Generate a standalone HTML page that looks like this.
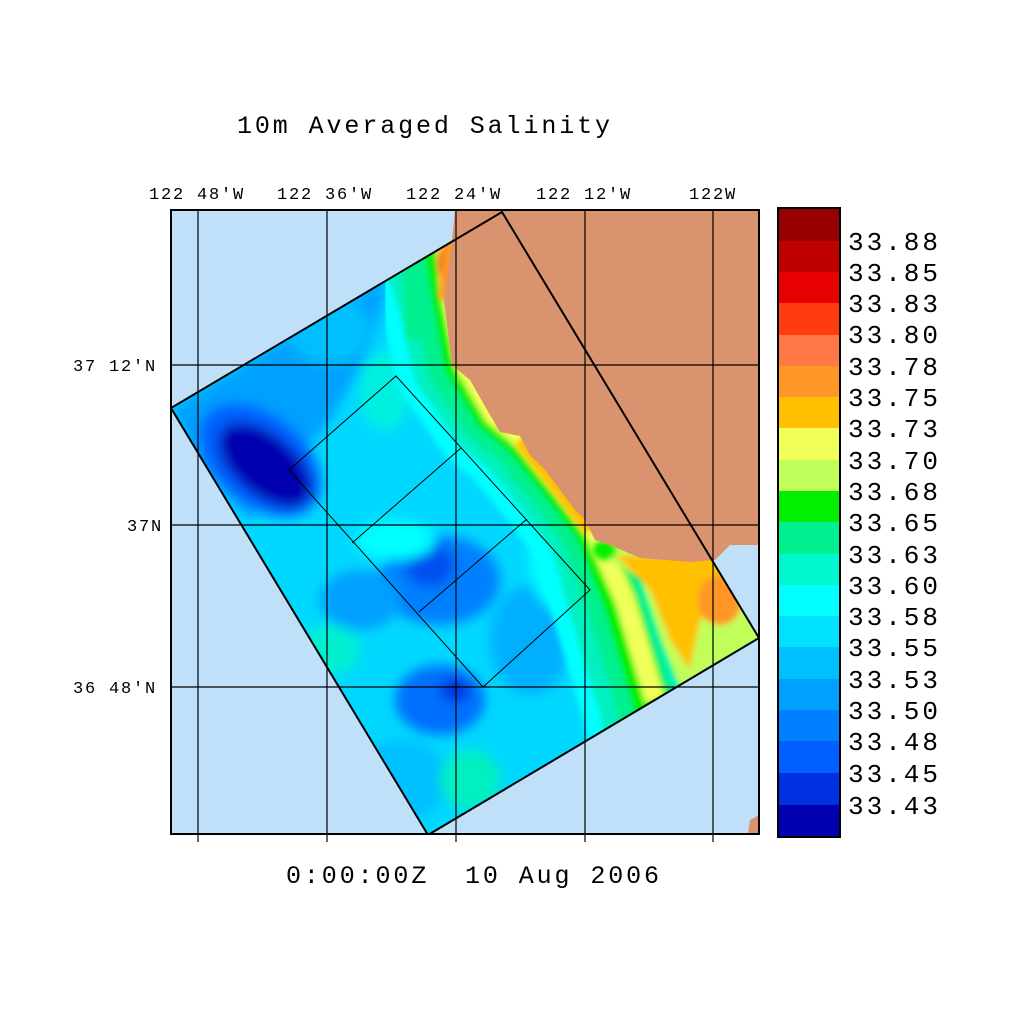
<!DOCTYPE html>
<html><head><style>
body{margin:0;background:#fff;}
svg text{font-family:"Liberation Mono",monospace;fill:#000;white-space:pre;}
</style></head><body>
<svg width="1024" height="1024" viewBox="0 0 1024 1024" xmlns="http://www.w3.org/2000/svg">
<defs>
<clipPath id="dom"><polygon points="171,408 502,212 759,638 428,835"/></clipPath>
<clipPath id="map"><rect x="171" y="210" width="588" height="624"/></clipPath>
<filter id="b" x="-20%" y="-20%" width="140%" height="140%"><feGaussianBlur stdDeviation="6"/></filter>
<filter id="b2"><feGaussianBlur stdDeviation="3"/></filter>
</defs>
<text x="237" y="133" font-size="25" letter-spacing="2.9">10m Averaged Salinity</text>
<g font-size="17" letter-spacing="1.8">
<text x="149" y="199">122 48'W</text><text x="277" y="199">122 36'W</text><text x="406" y="199">122 24'W</text><text x="536" y="199">122 12'W</text><text x="689" y="199">122W</text>
<text x="73" y="371">37 12'N</text><text x="127" y="531">37N</text><text x="73" y="693">36 48'N</text>
</g>
<rect x="171" y="210" width="588" height="624" fill="#c0e0fa"/>
<g clip-path="url(#map)">
<g clip-path="url(#dom)">
<rect x="150" y="200" width="620" height="650" fill="#00d8ff"/>
<g filter="url(#b)">
<polygon points="171,408 390,275 370,350 330,420 250,520 200,470" fill="#00a0ff"/>
<ellipse cx="260" cy="460" rx="70" ry="45" transform="rotate(40 260 460)" fill="#0060ff"/>
<ellipse cx="265" cy="465" rx="55" ry="30" transform="rotate(40 265 465)" fill="#0000b0"/>
<ellipse cx="330" cy="330" rx="40" ry="35" fill="#00c0ff"/>
<ellipse cx="385" cy="390" rx="25" ry="40" fill="#00f0e0"/>
<ellipse cx="440" cy="580" rx="60" ry="45" fill="#0080ff"/>
<ellipse cx="430" cy="565" rx="25" ry="22" fill="#0050f0"/>
<ellipse cx="360" cy="600" rx="40" ry="30" fill="#00a0ff"/>
<ellipse cx="440" cy="700" rx="45" ry="35" fill="#0070ff"/>
<ellipse cx="455" cy="690" rx="15" ry="12" fill="#0030e0"/>
<ellipse cx="530" cy="640" rx="40" ry="55" fill="#00b0ff"/>
<ellipse cx="400" cy="780" rx="50" ry="40" fill="#00c0ff"/>
<ellipse cx="330" cy="650" rx="30" ry="25" fill="#00f0d0"/>
<ellipse cx="470" cy="780" rx="30" ry="30" fill="#00f0c0"/>
<ellipse cx="560" cy="560" rx="30" ry="50" fill="#00ffff"/>
<ellipse cx="395" cy="540" rx="40" ry="20" fill="#00ffff"/>
</g>
<g fill="none" stroke-linejoin="round" filter="url(#b2)">
<polyline points="420,240 440,300 455,365 490,415 520,440 560,490 590,530 610,600 640,700 650,740" stroke="#00ffff" stroke-width="120"/>
<polyline points="420,240 440,300 455,365 490,415 520,440 560,490 590,530 610,600 640,700 650,740" stroke="#00f0c0" stroke-width="85"/>
<polyline points="425,240 443,300 457,365 490,415 520,440 560,490 590,530 615,600 645,700 650,740" stroke="#00f090" stroke-width="60"/>
<polyline points="410,270 412,340" stroke="#00f090" stroke-width="14"/>
<polyline points="440,240 450,300 462,365 492,415 522,440 562,490 592,530 620,600 650,700 655,740" stroke="#00f000" stroke-width="36"/>
<polyline points="445,240 452,300 465,365 494,415 524,440 564,490 594,530 625,600 655,700" stroke="#f0ff5a" stroke-width="20"/>
</g>
<g filter="url(#b2)">
<polygon points="600,540 760,540 760,640 680,690 660,640 640,580 610,560" fill="#c0ff5a"/>
<polygon points="615,555 740,555 745,600 700,620 690,670 670,640 650,590" fill="#ffc000"/>
<ellipse cx="720" cy="600" rx="22" ry="25" fill="#ff9628"/>
<ellipse cx="605" cy="550" rx="12" ry="10" fill="#00f000"/>
<ellipse cx="448" cy="265" rx="10" ry="22" fill="#e60000"/>
<polyline points="450,240 445,300" stroke="#ff9628" stroke-width="14" fill="none"/>
<polyline points="520,440 560,490 590,530" stroke="#ffc000" stroke-width="14" fill="none"/>
</g>
</g>
<polygon points="455,210 452,240 444,300 452,365 470,380 490,415 500,432 520,436 530,455 545,470 560,490 575,510 585,520 595,540 610,545 640,558 690,562 715,560 730,545 759,545 759,210" fill="#d9936f"/>
<polygon points="750,820 759,815 759,834 748,834" fill="#d9936f"/>
<g stroke="#000" stroke-width="1.2">
<line x1="198" y1="210" x2="198" y2="834"/><line x1="327" y1="210" x2="327" y2="834"/><line x1="456" y1="210" x2="456" y2="834"/><line x1="585" y1="210" x2="585" y2="834"/><line x1="713" y1="210" x2="713" y2="834"/>
<line x1="171" y1="365" x2="759" y2="365"/><line x1="171" y1="525" x2="759" y2="525"/><line x1="171" y1="687" x2="759" y2="687"/>
</g>
<g stroke="#000" stroke-width="1" fill="none">
<polygon points="289,470 396,376 590,590 483,687"/>
<line x1="352" y1="543" x2="461" y2="448"/><line x1="419" y1="612" x2="527" y2="519"/>
</g>
<polygon points="171,408 502,212 759,638 428,835" fill="none" stroke="#000" stroke-width="2"/>
</g>
<rect x="171" y="210" width="588" height="624" fill="none" stroke="#000" stroke-width="2"/>
<g stroke="#000" stroke-width="1.2"><line x1="198" y1="834" x2="198" y2="842"/><line x1="327" y1="834" x2="327" y2="842"/><line x1="456" y1="834" x2="456" y2="842"/><line x1="585" y1="834" x2="585" y2="842"/><line x1="713" y1="834" x2="713" y2="842"/></g>
<g>
<rect x="778" y="208" width="62" height="33" fill="#960000"/>
<rect x="778" y="241" width="62" height="32" fill="#be0000"/>
<rect x="778" y="272" width="62" height="32" fill="#e60000"/>
<rect x="778" y="303" width="62" height="33" fill="#ff3c0f"/>
<rect x="778" y="335" width="62" height="32" fill="#ff7846"/>
<rect x="778" y="366" width="62" height="32" fill="#ff9628"/>
<rect x="778" y="397" width="62" height="32" fill="#ffc000"/>
<rect x="778" y="428" width="62" height="33" fill="#f0ff5a"/>
<rect x="778" y="460" width="62" height="32" fill="#c0ff5a"/>
<rect x="778" y="491" width="62" height="32" fill="#00f000"/>
<rect x="778" y="522" width="62" height="33" fill="#00f090"/>
<rect x="778" y="554" width="62" height="32" fill="#00f8d0"/>
<rect x="778" y="585" width="62" height="32" fill="#00ffff"/>
<rect x="778" y="616" width="62" height="32" fill="#00e0ff"/>
<rect x="778" y="647" width="62" height="33" fill="#00c0ff"/>
<rect x="778" y="679" width="62" height="32" fill="#00a0ff"/>
<rect x="778" y="710" width="62" height="32" fill="#0080ff"/>
<rect x="778" y="741" width="62" height="33" fill="#0060ff"/>
<rect x="778" y="773" width="62" height="33" fill="#0030e0"/>
<rect x="778" y="805" width="62" height="32" fill="#0000b0"/>
<rect x="778" y="208" width="62" height="629" fill="none" stroke="#000" stroke-width="2"/>
</g>
<g font-size="26" letter-spacing="3">
<text x="848" y="250">33.88</text><text x="848" y="281">33.85</text><text x="848" y="312">33.83</text><text x="848" y="343">33.80</text><text x="848" y="375">33.78</text><text x="848" y="406">33.75</text><text x="848" y="437">33.73</text><text x="848" y="469">33.70</text><text x="848" y="500">33.68</text><text x="848" y="531">33.65</text><text x="848" y="563">33.63</text><text x="848" y="594">33.60</text><text x="848" y="625">33.58</text><text x="848" y="656">33.55</text><text x="848" y="688">33.53</text><text x="848" y="719">33.50</text><text x="848" y="750">33.48</text><text x="848" y="782">33.45</text><text x="848" y="814">33.43</text>
</g>
<text x="286" y="883" font-size="25" letter-spacing="2.9">0:00:00Z  10 Aug 2006</text>
</svg>
</body></html>
